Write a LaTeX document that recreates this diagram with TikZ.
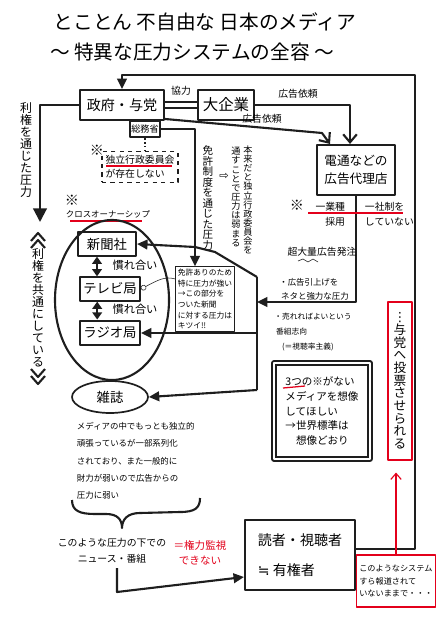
\documentclass[tikz,border=0pt]{standalone}
\usepackage{fontspec}
\setmainfont{Noto Sans CJK JP}
\newfontfamily\symfont{DejaVu Sans}
\usetikzlibrary{arrows.meta,calc,positioning,shapes.geometric}
\definecolor{Pen}{HTML}{1E1E1E}
\definecolor{Marker}{HTML}{E3001B}

\begin{document}
\begin{tikzpicture}[x=.25mm,y=-.25mm,line join=round,
    line/.style={draw=Pen,line width=1.5pt},
    box/.style={line,inner sep=1pt,font=\fontsize{9.5}{11}\selectfont},
    arr/.style={line,-{Triangle[length=2.6mm,width=2.4mm]}},
    bigarr/.style={line,-{Triangle[length=3.4mm,width=3.4mm]}},
    barb/.style={line,-{Straight Barb[length=2mm,width=3.4mm]}},
    both/.style={line,{Triangle[length=1.8mm,width=2.4mm]}-{Triangle[length=1.8mm,width=2.4mm]}},
    tate/.style={align=center,inner sep=0pt,font=\fontsize{#1}{#1}\selectfont},
    small/.style={font=\fontsize{#1}{#1}\selectfont},
    redline/.style={Marker,line width=.9pt}]
  \fill[white](0,0)rectangle(440,617);
  \useasboundingbox(0,0)rectangle(440,617);

  % title
  \node[small=14](title)at(205,22){とことん 不自由な 日本のメディア};
  \node[small=14](subtitle)at(192,52){〜 特異な圧力システムの全容 〜};

  % top row
  \node[box,minimum width=21mm,minimum height=7.5mm,font=\fontsize{10}{12}\selectfont](gov)at(122,105){政府・与党};
  \node[box,minimum width=7.5mm,minimum height=4.2mm,font=\fontsize{6.5}{7}\selectfont](soumu)at(145,129){総務省};
  \node[box,minimum width=14mm,minimum height=7.5mm,font=\fontsize{11}{13}\selectfont](ent)at(226,105){大企業};
  \node[box,minimum width=19.5mm,minimum height=12.5mm,align=center,font=\fontsize{9}{13}\selectfont](dentsu)at(356,170){電通などの\\広告代理店};
  \draw[line,double=white,double distance=1.1mm](gov.east)--(ent.west);
  \node[small=7](kyoryoku)at(181,91){協力};
  \draw[barb](ent.east)-|([xshift=-1.5mm]dentsu.north);
  \node[small=7](ad1)at(298,94){広告依頼};
  \draw[barb]([yshift=-3.5mm]gov.east)--(322,133)--([xshift=-6.5mm]dentsu.north);
  \node[small=7](ad2)at(262,119){広告依頼};

  % independent commission
  \node[small=10](kome1)at(97,150){※};
  \node[draw=Pen,thick,dashed,align=left,inner sep=2.5pt,font=\fontsize{7}{10}\selectfont](indep)at(140,167){独立行政委員会\\が存在しない};
  \draw[Pen,thick,dotted](soumu.south)--(soumu.south|-indep.north);
  \draw[redline](106,166)--(172,166);

  % left side
  \coordinate(lhead)at(40,222);
  \draw[bigarr](gov.west)-|(lhead);
  \node[tate=8.5](riken1)at(26,150){利\\権\\を\\通\\じ\\た\\圧\\力};
  \node[tate=8.5](riken2)at(38,308){利\\権\\を\\共\\通\\に\\し\\て\\い\\る};
  \draw[line](31,241)--(38,233)--(45,241) (31,248)--(38,240)--(45,248);
  \draw[line](31,369)--(38,377)--(45,369) (31,376)--(38,384)--(45,376);

  % cross ownership
  \node[small=10](kome2)at(72,200){※};
  \node[small=6](cross)at(108,214){クロスオーナーシップ};
  \draw[redline](70,221)--(142,221);
  \draw[line](112,300)ellipse[x radius=57,y radius=80];
  \node[box,minimum width=14.5mm,minimum height=5.8mm](paper)at(107,244){新聞社};
  \node[box,minimum width=15mm,minimum height=5.8mm](tv)at(110,289){テレビ局};
  \node[box,minimum width=15mm,minimum height=6.2mm](radio)at(110,333){ラジオ局};
  \draw[both]([xshift=-2.5mm]paper.south)--([xshift=-2.5mm]paper.south|-tv.north);
  \draw[both]([xshift=-3.2mm]tv.south)--([xshift=-3.2mm]tv.south|-radio.north);
  \node[small=8](nare1)at(135,265){慣れ合い};
  \node[small=8](nare2)at(135,309){慣れ合い};

  % licence
  \node[draw=Pen,thick,align=left,inner sep=1.5pt,font=\fontsize{5.5}{7.6}\selectfont](note)at(205,299){免許ありのため\\特に圧力が強い\\→この部分を\\ついた新聞\\に対する圧力は\\キツイ!!};
  \draw[arr](soumu.east)-|([xshift=-2.5mm]note.north);
  \node[tate=7.5](menkyo)at(208,198){免\\許\\制\\度\\を\\通\\じ\\た\\圧\\力};
  \node[font=\symfont\fontsize{8}{8}\selectfont](then)at(224,176){⇨};
  \node[tate=6.5](honrai)at(248,200){本\\来\\だ\\と\\独\\立\\行\\政\\委\\員\\会\\を};
  \node[tate=6.5](tosu)at(236,197){通\\す\\こ\\と\\で\\圧\\力\\は\\弱\\ま\\る};
  \draw[Pen,thin,-{Circle[open,length=1.4mm]}]([yshift=5mm]note.west)..controls(165,276)and(158,280)..(tv.east);

  % pressure bus
  \coordinate(bus)at(257,277);
  \coordinate(busmid)at(257,302);
  \coordinate(busend)at(257,390);
  \node[draw=Pen,very thick,ellipse,minimum width=19mm,minimum height=8mm,inner sep=0pt,font=\fontsize{9.5}{11}\selectfont](mag)at(110,397){雑誌};
  \draw[arr](bus)--(215,252)--(195,247)--(paper.east);
  \draw[line](bus)--(busend);
  \draw[arr](bus|-radio.east)--(radio.east);
  \draw[arr](busend)--(mag.east);
  \draw[arr](dentsu.south)|-(busmid);

  % advertising notes
  \node[small=10](kome3)at(297,205){※};
  \node[align=right,anchor=east,font=\fontsize{7}{10.5}\selectfont](gyoshu)at(350,214){一業種\\採用};
  \node[align=left,anchor=west,font=\fontsize{7}{10.5}\selectfont](issha)at(360,214){一社制を\\していない};
  \draw[redline](308,213)--(403,213);
  \node[small=7](chou)at(322,252){超大量広告発注};
  \draw[Pen,thin](298,261)--(303,259)--(308,262)--(313,259)--(318,262);
  \node[align=left,font=\fontsize{6}{10}\selectfont](hikiage)at(314,289){・広告引上げを\\\ ネタと強力な圧力};
  \node[align=left,font=\fontsize{5.5}{10.5}\selectfont](ureru)at(313,332){・売れればよいという\\\ 番組志向\\\quad(＝視聴率主義)};

  % three missing things
  \node[draw=Pen,very thick,double,double distance=1.2pt,align=left,inner sep=4pt,minimum width=24mm,minimum height=24mm,font=\fontsize{7.5}{10.5}\selectfont](three)at(322,411){3つの※がない\\メディアを想像\\してほしい\\→世界標準は\\\quad 想像どおり};
  \draw[redline](283,388)--(305,386);

  % magazine
  \node[align=left,anchor=north west,font=\fontsize{6}{12.4}\selectfont](magtxt)at(72,417){メディアの中でもっとも独立的\\頑張っているが一部系列化\\されており、また一般的に\\財力が弱いので広告からの\\圧力に弱い};
  \draw[line](72,500)..controls(72,511)and(80,514)..(95,514)--(106,514)..controls(117,514)and(122,519)..(122,528)
    ..controls(122,519)and(128,513)..(140,513)--(180,512)..controls(195,512)and(200,508)..(200,498);

  % bottom
  \node[align=center,font=\fontsize{7}{11}\selectfont](under)at(112,551){このような圧力の下での\\ニュース・番組};
  \node[Marker,align=center,font=\fontsize{7.5}{11}\selectfont](nocheck)at(200,553){＝権力監視\\できない};
  \node[box,align=left,minimum width=27.5mm,minimum height=17.5mm,inner sep=4pt,font=\fontsize{10}{12}\selectfont](reader)at(300,555){読者・視聴者\\[9pt]{\symfont ≒} 有権者};
  \coordinate(bend)at(117,592);
  \draw[arr](under.south-|bend)--(bend)--([yshift=-5.5mm]reader.west);
  \coordinate(loopc)at(415,75);
  \draw[arr]([yshift=1.5mm]reader.east)-|(loopc)-|(gov.north);

  % red notes
  \node[draw=Marker,thick,minimum width=6mm,minimum height=39.5mm,tate=9](vote)at(400,381){{\symfont ⋮}\\与\\党\\へ\\投\\票\\さ\\せ\\ら\\れ\\る};
  \node[draw=Marker,thick,align=left,inner sep=2pt,minimum width=19mm,minimum height=13mm,font=\fontsize{5.8}{9}\selectfont](sys)at(396,581){このようなシステム\\すら報道されて\\いないままで・・・};
  \draw[Marker,thick,-{Straight Barb[length=1.5mm,width=2.6mm]}](sys.north)--([yshift=-3mm]vote.south-|sys.north);
\end{tikzpicture}
\end{document}
